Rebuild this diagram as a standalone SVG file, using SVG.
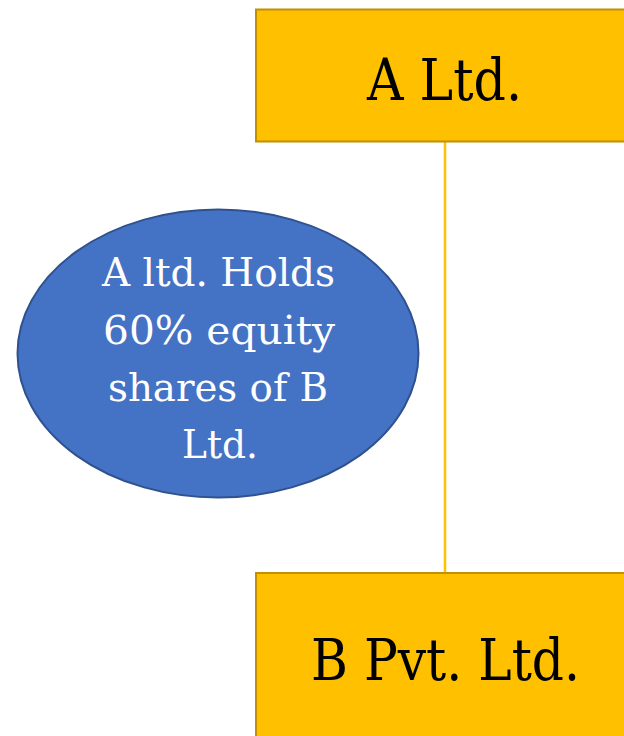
<svg xmlns="http://www.w3.org/2000/svg" width="624" height="736" viewBox="0 0 624 736">
  <style>
    .box { fill: #ffc000; stroke: #bf9000; stroke-width: 2; }
    .box-label { font-family: "DejaVu Serif", "Liberation Serif", serif; font-size: 57px; fill: #000000; text-anchor: middle; }
    .note { fill: #4472c4; stroke: #2f528f; stroke-width: 2; }
    .note-label { font-family: "DejaVu Serif", "Liberation Serif", serif; font-size: 40px; fill: #ffffff; text-anchor: middle; }
    .link { stroke: #ffc000; stroke-width: 2.5; fill: none; }
  </style>
  <rect width="624" height="736" fill="#ffffff"/>

  <g id="connectors">
    <line class="link" x1="445" y1="142" x2="445" y2="573"/>
  </g>

  <g id="a-ltd">
    <rect class="box" x="256" y="9.5" width="380" height="132"/>
    <text class="box-label" x="444.5" y="100" textLength="155" lengthAdjust="spacingAndGlyphs">A Ltd.</text>
  </g>

  <g id="b-pvt-ltd">
    <rect class="box" x="256" y="573" width="380" height="180"/>
    <text class="box-label" x="445.5" y="680" textLength="269" lengthAdjust="spacingAndGlyphs">B Pvt. Ltd.</text>
  </g>

  <g id="holding-note">
    <ellipse class="note" cx="218" cy="353.5" rx="200.5" ry="144"/>
    <text class="note-label" x="218.5" y="286" textLength="233" lengthAdjust="spacingAndGlyphs">A ltd. Holds</text>
    <text class="note-label" x="219" y="344" textLength="232" lengthAdjust="spacingAndGlyphs">60% equity</text>
    <text class="note-label" x="218" y="401" textLength="220" lengthAdjust="spacingAndGlyphs">shares of B</text>
    <text class="note-label" x="220" y="458" textLength="76" lengthAdjust="spacingAndGlyphs">Ltd.</text>
  </g>
</svg>
